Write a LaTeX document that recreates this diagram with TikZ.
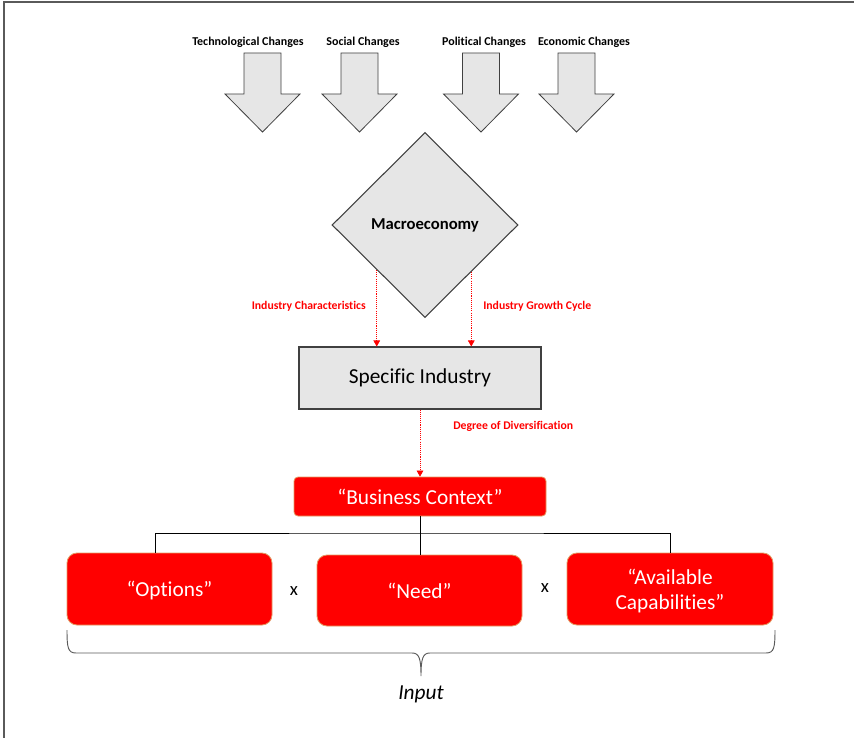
\documentclass[tikz,border=0pt]{standalone}
\usepackage{fontspec}
\setmainfont{Carlito}[Ligatures={NoCommon}]
\usetikzlibrary{shapes.geometric,arrows.meta,calc}
\definecolor{boxgray}{HTML}{E6E6E6}
\definecolor{edgegray}{HTML}{404040}
\definecolor{framegray}{HTML}{5A5A5A}
\definecolor{hotred}{HTML}{FF0000}
\definecolor{rededge}{HTML}{E39A62}
\tikzset{
  x=0.75pt, y=-0.75pt,
  changelabel/.style={font=\fontsize{9}{11}\selectfont\bfseries, inner sep=0pt},
  blockarrow/.style={fill=boxgray, draw=edgegray, line width=0.6pt, line join=miter},
  graybox/.style={draw=edgegray, fill=boxgray, line width=0.8pt, inner sep=0pt},
  redbox/.style={draw=rededge, fill=hotred, line width=0.6pt, text=white,
    font=\fontsize{16}{19}\selectfont, inner sep=0pt, align=center, text depth=0pt},
  redlabel/.style={text=hotred, font=\fontsize{8.8}{10}\selectfont\bfseries, inner sep=0pt},
  flow/.style={draw=hotred, line width=0.5pt, dash pattern=on 0.8pt off 0.8pt,
    -{Triangle[width=5pt,length=4.5pt]}},
  tree/.style={draw=black, line width=0.75pt},
  timeslabel/.style={font=\fontsize{14}{16}\selectfont, inner sep=0pt},
}
% downward block arrow: #1 = centre x
\newcommand{\downblock}[1]{%
  \path[blockarrow] (#1-18.5,53) -- (#1+18.5,53) -- (#1+18.5,94) -- (#1+37.5,94)
    -- (#1,132) -- (#1-37.5,94) -- (#1-18.5,94) -- cycle;}
\begin{document}
\begin{tikzpicture}
\useasboundingbox (0,0) rectangle (854,738);
% frame lines
\draw[framegray, line width=1.5pt] (3.5,738) -- (3.5,2) -- (854,2);

% external forces
\node[changelabel] (tech) at (248,42) {Technological Changes};
\node[changelabel] (soc)  at (363,42) {Social Changes};
\node[changelabel] (pol)  at (484,42) {Political Changes};
\node[changelabel] (eco)  at (584,42) {Economic Changes};
\downblock{262.5}
\downblock{359.5}
\downblock{481}
\downblock{576.5}

% macroeconomy
\node[graybox, diamond, aspect=1, minimum width=139.5pt, minimum height=138.75pt,
  font=\fontsize{12.5}{15}\selectfont\bfseries] (macro) at (425,225) {Macroeconomy};

% specific industry
\node[graybox, minimum width=181.5pt, minimum height=46.5pt,
  font=\fontsize{16}{19}\selectfont] (ind) at (420,378) {Specific Industry};

\coordinate (lstart) at ($(macro.west)!0.484!(macro.south)$);
\coordinate (rstart) at ($(macro.east)!0.505!(macro.south)$);
\draw[flow] (lstart) -- (lstart |- ind.north);
\draw[flow] (rstart) -- (rstart |- ind.north);
\node[redlabel, anchor=east] (charlab) at (366,306) {Industry Characteristics};
\node[redlabel, anchor=west] (growlab) at (483,306) {Industry Growth Cycle};

% business context
\node[redbox, rounded corners=3pt, minimum width=189pt, minimum height=29.25pt]
  (bc) at (420,496.5) {“Business Context”};
\draw[flow] (ind.south) -- (bc.north);
\node[redlabel, anchor=west] (divlab) at (453,426) {Degree of Diversification};

% inputs
\node[redbox, rounded corners=7.5pt, minimum width=153.75pt, minimum height=54pt]
  (opt) at (169.5,589) {“Options”};
\node[redbox, rounded corners=7.5pt, minimum width=153.75pt, minimum height=53.25pt]
  (need) at (419.5,590.5) {“Need”};
\node[redbox, rounded corners=7.5pt, minimum width=154.5pt, minimum height=54pt]
  (cap) at (670,589) {“Available\\Capabilities”};
\node[timeslabel] (x1) at (294,591) {x};
\node[timeslabel] (x2) at (545,588) {x};

\coordinate (bus) at (420,533);
\draw[tree] (bc.south) -- (bc.south |- need.north);
\draw[tree] ([xshift=-10.5pt]opt.north) |- (bus) -| (cap.north);

% brace under the inputs
\coordinate (bl) at (67,630);
\coordinate (br) at (775,630);
\coordinate (btip) at (421,676);
\draw[framegray, line width=0.7pt]
  (bl) .. controls (67,648) and (68,653) .. (76,653) -- (412,653)
  .. controls (419,653) and (421,658) .. (btip)
  .. controls (421,658) and (423,653) .. (430,653) -- (766,653)
  .. controls (774,653) and (775,648) .. (br);
\node[font=\fontsize{16}{19}\selectfont\itshape, inner sep=0pt] (inlab) at (421,694) {Input};
\end{tikzpicture}
\end{document}
